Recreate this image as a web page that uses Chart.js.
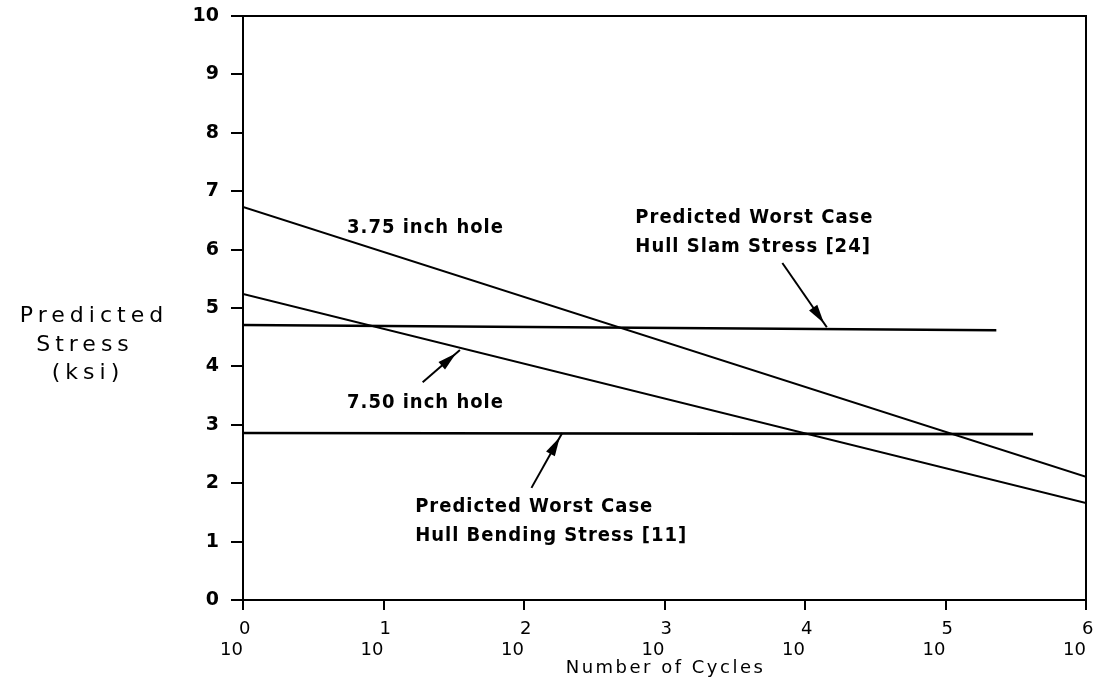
<!DOCTYPE html>
<html>
<head>
<meta charset="utf-8">
<style>
  html, body { margin: 0; padding: 0; background: #fff; }
  #wrap { width: 1109px; height: 683px; }
</style>
<script src="https://cdn.jsdelivr.net/npm/chart.js@4.4.1/dist/chart.umd.min.js"></script>
</head>
<body>
<div id="wrap"><canvas id="stressChart"></canvas></div>
<script>
// decade ticks on the cycles axis, and the exponents written over each "10"
var cycleDecades = [1, 10, 100, 1000, 10000, 100000, 1000000];
var decadeExponents = ['0', '1', '2', '3', '4', '5', '6'];
var stressTicks = [0, 1, 2, 3, 4, 5, 6, 7, 8, 9, 10];

// S-N lines for the two hole sizes
var hole375Cycles = [1, 1000000];
var hole375Stress = [6.73, 2.11];
var hole750Cycles = [1, 1000000];
var hole750Stress = [5.24, 1.66];

// predicted worst case hull stresses
var slamCycles = [1, 230000];
var slamStress = [4.71, 4.62];
var bendingCycles = [1, 420000];
var bendingStress = [2.86, 2.84];

function toPoints(xs, ys) {
    return xs.map(function (x, i) { return { x: x, y: ys[i] }; });
}

// callouts, anchored in data units (cycles, ksi)
var notes = [
    { text: ['3.75 inch hole'], cycles: 5.5, stress: 6.28 },
    { text: ['7.50 inch hole'], cycles: 5.5, stress: 3.29 },
    { text: ['Predicted Worst Case', 'Hull Slam Stress [24]'], cycles: 620, stress: 6.45 },
    { text: ['Predicted Worst Case', 'Hull Bending Stress [11]'], cycles: 16.8, stress: 1.5 }
];
var arrows = [
    { from: [6900, 5.77], to: [14300, 4.67] },
    { from: [113, 1.92], to: [187, 2.86] },
    { from: [19, 3.73], to: [35, 4.28] }
];

var lineStyle = { borderColor: '#000', borderWidth: 2, pointRadius: 0, tension: 0, fill: false };

var annotatePlugin = {
    id: 'annotate',
    afterDraw: function (chart) {
        var ctx = chart.ctx;
        var xs = chart.scales.x, ys = chart.scales.y;
        var area = chart.chartArea;
        ctx.save();
        ctx.strokeStyle = '#000';
        ctx.fillStyle = '#000';

        // frame round the plot
        ctx.lineWidth = 2;
        ctx.strokeRect(area.left, area.top, area.right - area.left, area.bottom - area.top);

        // cycle tick labels: 10 with a raised exponent
        ctx.font = '18px "DejaVu Sans"';
        ctx.textBaseline = 'alphabetic';
        cycleDecades.forEach(function (v, i) {
            var px = xs.getPixelForValue(v);
            ctx.textAlign = 'right';
            ctx.fillText('10', px, area.bottom + 55);
            ctx.textAlign = 'left';
            ctx.fillText(decadeExponents[i], px - 4, area.bottom + 34);
        });

        // axis titles
        ctx.textAlign = 'center';
        ctx.font = '18px "DejaVu Sans"';
        ctx.letterSpacing = '2.5px';
        ctx.fillText('Number of Cycles', (area.left + area.right) / 2 + 1, area.bottom + 73);
        ctx.font = '22px "DejaVu Sans"';
        ctx.letterSpacing = '5px';
        ctx.fillText('Predicted', 94, 322);
        ctx.fillText('Stress', 85, 351);
        ctx.fillText('(ksi)', 88, 379);

        // callout text
        ctx.textAlign = 'left';
        ctx.letterSpacing = '1px';
        ctx.font = 'bold 20px "DejaVu Sans Condensed", "DejaVu Sans"';
        notes.forEach(function (n) {
            var x = xs.getPixelForValue(n.cycles);
            var y = ys.getPixelForValue(n.stress);
            n.text.forEach(function (line, k) {
                ctx.fillText(line, x, y + k * 29);
            });
        });
        ctx.letterSpacing = '0px';

        // leader arrows
        ctx.lineWidth = 2;
        arrows.forEach(function (a) {
            var x0 = xs.getPixelForValue(a.from[0]), y0 = ys.getPixelForValue(a.from[1]);
            var x1 = xs.getPixelForValue(a.to[0]), y1 = ys.getPixelForValue(a.to[1]);
            ctx.beginPath();
            ctx.moveTo(x0, y0);
            ctx.lineTo(x1, y1);
            ctx.stroke();
            var ang = Math.atan2(y1 - y0, x1 - x0);
            var hx = x1 - 5 * Math.cos(ang), hy = y1 - 5 * Math.sin(ang);
            var bx = hx - 19 * Math.cos(ang), by = hy - 19 * Math.sin(ang);
            ctx.beginPath();
            ctx.moveTo(hx, hy);
            ctx.lineTo(bx + 5 * Math.sin(ang), by - 5 * Math.cos(ang));
            ctx.lineTo(bx - 5 * Math.sin(ang), by + 5 * Math.cos(ang));
            ctx.closePath();
            ctx.fill();
        });
        ctx.restore();
    }
};

var stressChart = new Chart(document.getElementById('stressChart').getContext('2d'), {
    type: 'line',
    data: {
        datasets: [
            Object.assign({ label: '3.75 inch hole', data: toPoints(hole375Cycles, hole375Stress) }, lineStyle),
            Object.assign({ label: '7.50 inch hole', data: toPoints(hole750Cycles, hole750Stress) }, lineStyle),
            Object.assign({ label: 'Hull Slam Stress', data: toPoints(slamCycles, slamStress) }, lineStyle, { borderWidth: 2.6 }),
            Object.assign({ label: 'Hull Bending Stress', data: toPoints(bendingCycles, bendingStress) }, lineStyle, { borderWidth: 2.6 })
        ]
    },
    options: {
        responsive: true,
        maintainAspectRatio: false,
        animation: false,
        layout: { padding: { top: 16, right: 23, bottom: 0, left: 0 } },
        plugins: {
            legend: { display: false },
            tooltip: { enabled: false }
        },
        scales: {
            x: {
                type: 'logarithmic',
                min: 1,
                max: 1000000,
                afterBuildTicks: function (scale) {
                    scale.ticks = cycleDecades.map(function (v) { return { value: v }; });
                },
                afterFit: function (scale) {
                    scale.height = 83;
                    scale.paddingLeft = 0;
                    scale.paddingRight = 0;
                },
                ticks: { display: false },
                grid: { drawOnChartArea: false, drawTicks: true, tickLength: 10, color: '#000', lineWidth: 2 },
                border: { display: true, color: '#000', width: 2 }
            },
            y: {
                type: 'linear',
                min: 0,
                max: 10,
                afterBuildTicks: function (scale) {
                    scale.ticks = stressTicks.map(function (v) { return { value: v }; });
                },
                afterFit: function (scale) {
                    scale.width = 243;
                    scale.paddingTop = 0;
                    scale.paddingBottom = 0;
                },
                ticks: {
                    color: '#000',
                    padding: 12,
                    font: { family: 'DejaVu Sans', size: 19, weight: 'bold' }
                },
                grid: { drawOnChartArea: false, drawTicks: true, tickLength: 12, color: '#000', lineWidth: 2 },
                border: { display: true, color: '#000', width: 2 }
            }
        }
    },
    plugins: [annotatePlugin]
});
</script>
</body>
</html>
